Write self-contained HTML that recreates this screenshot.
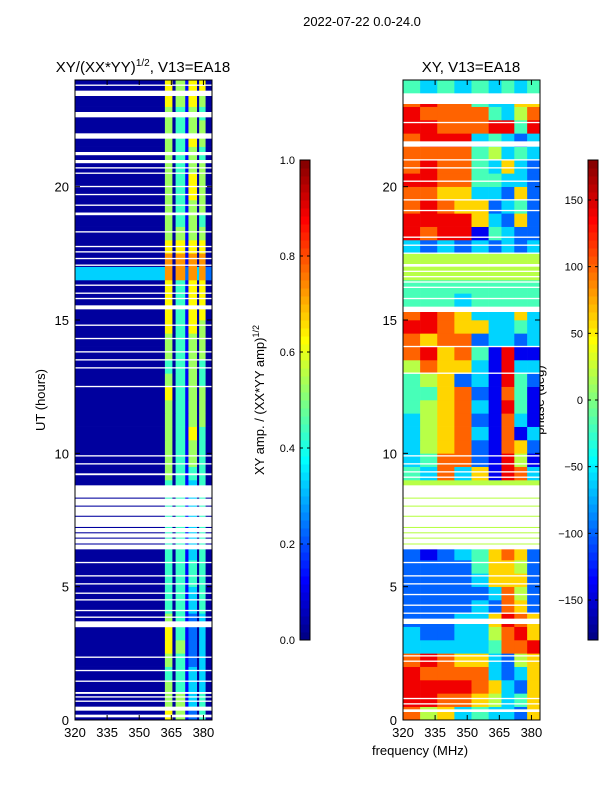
<!DOCTYPE html>
<html><head><meta charset="utf-8"><style>
body{margin:0;background:#fff;width:600px;height:800px;overflow:hidden;font-family:"Liberation Sans","DejaVu Sans",sans-serif}
</style></head><body>
<svg id="c" width="600" height="800" xmlns="http://www.w3.org/2000/svg" font-family="Liberation Sans, DejaVu Sans, sans-serif">
<text x="362" y="26" font-size="13" text-anchor="middle">2022-07-22 0.0-24.0</text>
<text x="143" y="72" font-size="15" text-anchor="middle">XY/(XX*YY)<tspan font-size="10" dy="-6">1/2</tspan><tspan dy="6">, V13=EA18</tspan></text>
<text x="471" y="72" font-size="15" text-anchor="middle">XY, V13=EA18</text>
<text x="45" y="400" font-size="13" text-anchor="middle" transform="rotate(-90 45 400)">UT (hours)</text>
<text x="420" y="755" font-size="13" text-anchor="middle">frequency (MHz)</text>
<text x="264" y="400" font-size="13" text-anchor="middle" transform="rotate(-90 264 400)">XY amp. / (XX*YY amp)<tspan font-size="9" dy="-5">1/2</tspan></text>
<text x="544" y="400" font-size="13" text-anchor="middle" transform="rotate(-90 544 400)">phase (deg)</text>
<g id="g"></g>
</svg>
<script>
// ---- data ----
const timeStep = 0.5;
const ampFreqEdges = [320,362,365.5,367,371.5,373,377,378,381,384];
const ampRows = ["060512040","050513040","050413030","040413030","050412030","060512030","060412030","050412030","040413040","040413040","040414040","040414040","040413040","040413040","040413040","040413040","040413040","040413040","050414040","050415040","050415040","050416040","050415050","050415050","060415050","050415040","040415040","050415050","050415050","060416050","060416060","060416060","060416060","370727372","070717070","060616060","050515050","050415040","050415050","050416050","050416050","050415050","050415040","050416050","050415050","050415040","060516050","060516060"];
const ampGaps = [[0.1,0.2],[0.35,0.5],[0.68,0.73],[0.84,0.89],[0.98,1.05],[1.43,1.48],[1.83,1.88],[2.33,2.38],[3.48,3.7],[3.83,3.88],[4.08,4.13],[4.48,4.53],[4.73,4.78],[5.08,5.13],[5.38,5.43],[5.88,5.93],[6.4,6.58],[6.62,6.8],[6.84,7.0],[7.04,7.2],[7.24,7.62],[7.66,8.0],[8.04,8.3],[8.34,8.8],[9.18,9.25],[9.58,9.63],[9.88,9.93],[12.48,12.53],[13.18,13.23],[13.48,13.53],[13.78,13.83],[14.28,14.33],[14.78,14.83],[15.4,15.55],[15.78,15.83],[15.98,16.03],[16.28,16.33],[17.03,17.08],[17.28,17.33],[17.53,17.58],[17.73,17.78],[18.28,18.33],[18.93,19.03],[19.28,19.33],[19.68,19.73],[19.98,20.03],[20.48,20.53],[20.68,20.73],[20.88,21.0],[21.18,21.3],[21.8,22.0],[22.6,22.8],[23.4,23.6],[23.78,23.83]];
const phaseFreqEdges = [320,328,336,344,352,360,366,372,378,384];
const phaseRows = ["756343326","887765346","888876326","877773236","787663256","333334778","322335786","222336876","222232762","222223752","222236662","222246652","212346762","555555555","555555555","555555555","555555555","555555555","437361873","347721851","356721762","356731713","356721731","456731841","446721741","456231842","576631833","786741811","767723323","887663343","787633363","444344444","444444444","555555555","555555555","323232323","878814322","888863262","787662342","776633262","887744332","787743632","777745343","788834323","887778848","877774357","787743366","434343434"];
const phaseGaps = [[0.3,0.4],[0.58,0.63],[0.78,0.83],[2.18,2.23],[2.38,2.43],[3.6,3.8],[3.98,4.03],[4.28,4.33],[4.68,4.73],[5.08,5.13],[5.38,5.43],[5.88,5.93],[6.4,6.58],[6.62,6.8],[6.84,7.0],[7.04,7.2],[7.24,7.62],[7.66,8.0],[8.04,8.3],[8.34,8.8],[9.08,9.13],[9.28,9.33],[9.58,9.63],[9.88,9.93],[12.98,13.03],[13.98,14.03],[15.3,15.5],[15.78,15.83],[16.2,16.25],[16.4,16.45],[16.6,16.65],[16.8,16.85],[17.0,17.1],[17.48,17.53],[17.78,17.83],[18.08,18.13],[19.08,19.13],[19.48,19.53],[20.18,20.23],[20.68,20.73],[20.98,21.03],[21.5,21.7],[22.38,22.43],[23.1,23.5]];
const yTicks = [0,5,10,15,20];
const xTicks = [320,335,350,365,380];
const ampTicks = [0.0,0.2,0.4,0.6,0.8,1.0];
const phaseTicks = [-150,-100,-50,0,50,100,150];

// ---- helpers ----
const NS="http://www.w3.org/2000/svg", G=document.getElementById('g');
function mk(t,a,p){const e=document.createElementNS(NS,t);for(const k in a)e.setAttribute(k,a[k]);(p||G).appendChild(e);return e;}
function jet(v){v=Math.max(0,Math.min(1,v));const r=Math.min(4*v-1.5,-4*v+4.5),g=Math.min(4*v-0.5,-4*v+3.5),b=Math.min(4*v+0.5,-4*v+2.5);const c=x=>Math.round(255*Math.max(0,Math.min(1,x)));return `rgb(${c(r)},${c(g)},${c(b)})`;}
const Y0=80,Y1=720;
const yS=t=>Y1-(t/24)*(Y1-Y0);

function panel(x0,x1,edges,rows,conv,gaps,name){
  const xS=f=>x0+(f-320)/64*(x1-x0);
  rows.forEach((row,i)=>{
    for(let j=0;j<edges.length-1;j++){
      const v=conv(+row[j]);
      const r=mk('rect',{x:xS(edges[j]),y:yS((i+1)*timeStep),width:xS(edges[j+1])-xS(edges[j])+0.3,height:yS(i*timeStep)-yS((i+1)*timeStep)+0.3,fill:jet(v)});
      
      
    }
  });
  gaps.forEach(g=>{
    const r=mk('rect',{x:x0,y:yS(g[1]),width:x1-x0,height:Math.max(1,yS(g[0])-yS(g[1])),fill:'#fff'});
    
    
  });
  const f=mk('rect',{x:x0,y:Y0,width:x1-x0,height:Y1-Y0,fill:'none',stroke:'#000','stroke-width':1});
  
  
  yTicks.forEach(t=>{
    const y=yS(t);
    mk('line',{x1:x0,x2:x0+5,y1:y,y2:y,stroke:'#000'});mk('line',{x1:x1,x2:x1-5,y1:y,y2:y,stroke:'#000'});
    const l=mk('text',{x:x0-6,y:y+5,'font-size':13,'text-anchor':'end'});l.textContent=t;
    
    
  });
  xTicks.forEach(t=>{
    const x=xS(t);
    mk('line',{x1:x,x2:x,y1:Y1,y2:Y1-5,stroke:'#000'});mk('line',{x1:x,x2:x,y1:Y0,y2:Y0+5,stroke:'#000'});
    const l=mk('text',{x:x,y:Y1+17,'font-size':13,'text-anchor':'middle'});l.textContent=t;
    
    
  });
}
panel(75,212,ampFreqEdges,ampRows,d=>d/10+0.03,ampGaps,'amp-heatmap');
panel(403,540,phaseFreqEdges,phaseRows,d=>((d-4.5)*40+180)/360,phaseGaps,'phase-heatmap');

function cbar(x,ticks,lo,hi,fmt,name){
  const n=60,top=160,bot=640;
  for(let i=0;i<n;i++){
    const r=mk('rect',{x:x,y:bot-(i+1)*(bot-top)/n,width:10,height:(bot-top)/n+0.5,fill:jet((i+0.5)/n)});
    
    
  }
  mk('rect',{x:x,y:top,width:10,height:bot-top,fill:'none',stroke:'#000'});
  ticks.forEach(t=>{
    const y=bot-(t-lo)/(hi-lo)*(bot-top);
    mk('line',{x1:x,x2:x+3,y1:y,y2:y,stroke:'#000'});mk('line',{x1:x+10,x2:x+7,y1:y,y2:y,stroke:'#000'});
    const l=mk('text',{x:x-5,y:y+4,'font-size':11,'text-anchor':'end'});l.textContent=fmt(t);
    
    
  });
}
cbar(300,ampTicks,0,1,t=>t.toFixed(1),'amp-colorbar');
cbar(588,phaseTicks,-180,180,t=>t<0?'\u2212'+(-t):''+t,'phase-colorbar');
</script>
</body></html>
